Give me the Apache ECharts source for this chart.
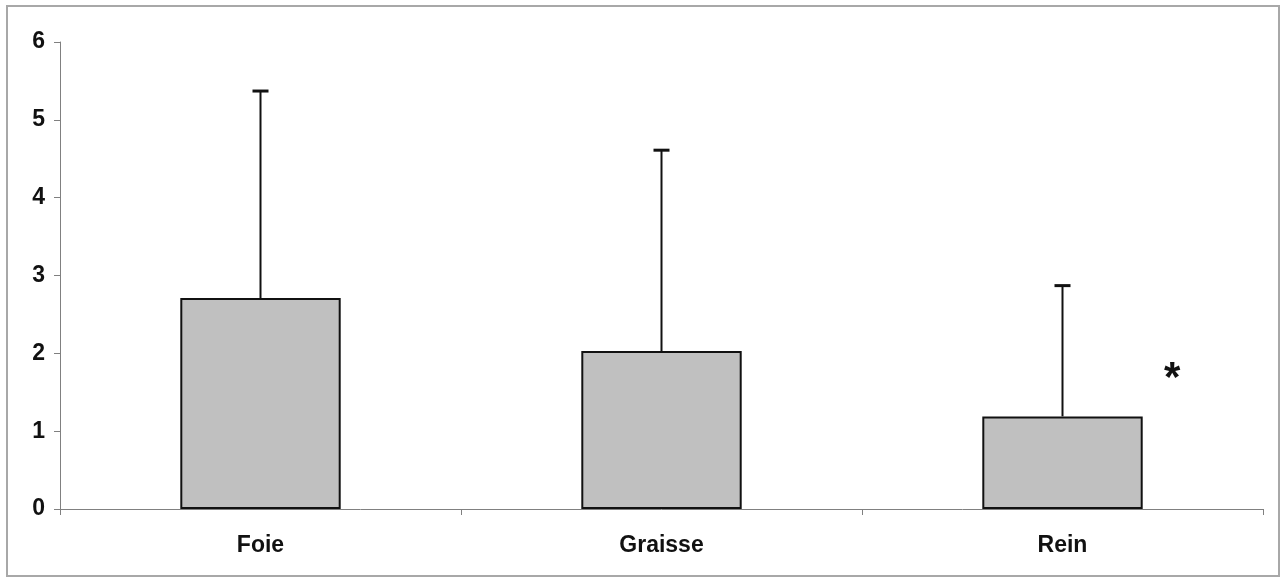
<!DOCTYPE html>
<html><head><meta charset="utf-8">
<script src="https://cdn.jsdelivr.net/npm/echarts@6/dist/echarts.min.js"></script>
<style>html,body{margin:0;padding:0;background:#fff}#c{width:1285px;height:579px}</style>
</head><body><div id="c"></div>
<script>
var categories = ['Foie', 'Graisse', 'Rein'];
var means = [2.71, 2.03, 1.19];
var upperErr = [5.37, 4.61, 2.87];
var yTicks = [0, 1, 2, 3, 4, 5, 6];

var chart = echarts.init(document.getElementById('c'));
var font = '"Liberation Sans", Arial, sans-serif';
chart.setOption({
  animation: false,
  backgroundColor: '#fff',
  grid: {left: 60, right: 22, top: 42, bottom: 70},
  xAxis: {
    type: 'category', data: categories,
    axisLine: {lineStyle: {color: '#808080', width: 1}},
    axisTick: {show: true, length: 6, lineStyle: {color: '#808080'}},
    axisLabel: {color: '#111', fontFamily: font, fontWeight: 'bold', fontSize: 23, margin: 25}
  },
  yAxis: {
    type: 'value', min: yTicks[0], max: yTicks[yTicks.length - 1], interval: 1,
    splitLine: {show: false},
    axisLine: {show: true, lineStyle: {color: '#808080', width: 1}},
    axisTick: {show: true, length: 6, lineStyle: {color: '#808080'}},
    axisLabel: {color: '#111', fontFamily: font, fontWeight: 'bold', fontSize: 23, margin: 15}
  },
  graphic: [
    {type: 'rect', shape: {x: 7, y: 6, width: 1272, height: 570}, style: {fill: 'none', stroke: '#a8a8a8', lineWidth: 2}, z: -1},
    {type: 'text', left: 1164, top: 358, style: {text: '*', fill: '#111', font: 'bold 42px "Liberation Sans", Arial, sans-serif'}}
  ],
  series: [
    {
      type: 'custom',
      data: upperErr.map(function (v, i) { return [i, means[i], v]; }),
      renderItem: function (params, api) {
        var base = api.coord([api.value(0), api.value(1)]);
        var top = api.coord([api.value(0), api.value(2)]);
        var hw = 8;
        return {type: 'group', children: [
          {type: 'line', shape: {x1: base[0], y1: base[1], x2: top[0], y2: top[1]}, style: {stroke: '#111', lineWidth: 2}},
          {type: 'line', shape: {x1: top[0] - hw, y1: top[1], x2: top[0] + hw, y2: top[1]}, style: {stroke: '#111', lineWidth: 3}}
        ]};
      },
      z: 1
    },
    {
      type: 'bar', data: means, barWidth: '40%',
      itemStyle: {color: '#c0c0c0', borderColor: '#111', borderWidth: 2},
      z: 2
    }
  ]
});
</script></body></html>
